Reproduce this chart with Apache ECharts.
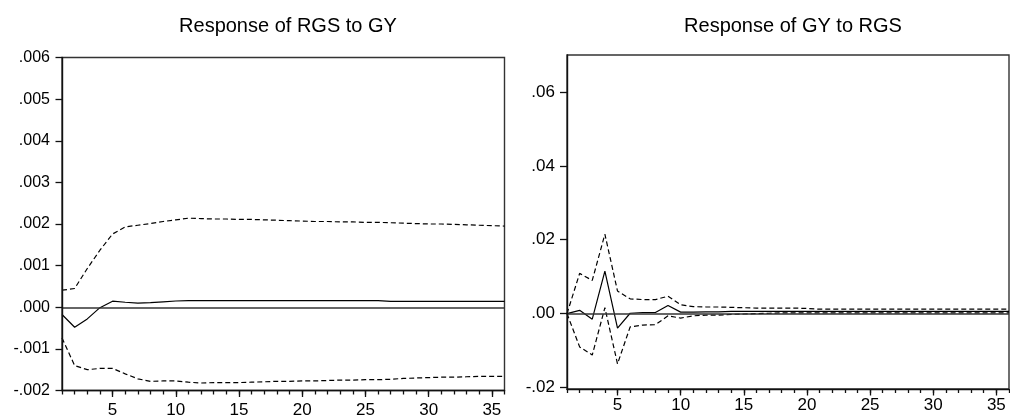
<!DOCTYPE html>
<html>
<head>
<meta charset="utf-8">
<script src="https://cdn.jsdelivr.net/npm/echarts@6/dist/echarts.min.js"></script>
<style>
html,body{margin:0;padding:0;background:#fff;}
#chart{width:1010px;height:419px;}
</style>
</head>
<body>
<div id="chart"></div>
<script>
// ---- data ----
const periods = [1,2,3,4,5,6,7,8,9,10,11,12,13,14,15,16,17,18,19,20,21,22,23,24,25,26,27,28,29,30,31,32,33,34,35,36];

const titleLeft = "Response of RGS to GY";
const titleRight = "Response of GY to RGS";

const rgsGyResp = [-0.000175,-0.00048,-0.00028,-0.00001,0.000145,0.00012,0.0001,0.00011,0.00013,0.00015,0.00016,0.00016,0.00016,0.00016,0.00016,0.00016,0.00016,0.00016,0.00016,0.00016,0.00016,0.00016,0.00016,0.00016,0.00016,0.00016,0.00014,0.00014,0.00014,0.00014,0.00014,0.00014,0.00014,0.00014,0.00014,0.00014];
const rgsGyUpper = [0.00041,0.00045,0.00093,0.00137,0.00176,0.00193,0.00197,0.00201,0.00206,0.0021,0.00214,0.00213,0.00212,0.00212,0.00211,0.00211,0.0021,0.00209,0.00208,0.00207,0.00206,0.00206,0.00205,0.00205,0.00204,0.00204,0.00203,0.00202,0.00201,0.002,0.002,0.00199,0.00198,0.00197,0.00196,0.00195];
const rgsGyLower = [-0.00074,-0.0014,-0.0015,-0.00147,-0.00147,-0.0016,-0.00172,-0.00178,-0.00177,-0.00177,-0.0018,-0.00182,-0.00181,-0.00181,-0.00181,-0.0018,-0.00179,-0.00178,-0.00178,-0.00177,-0.00177,-0.00176,-0.00175,-0.00175,-0.00174,-0.00174,-0.00173,-0.00171,-0.0017,-0.00169,-0.00168,-0.00168,-0.00167,-0.00166,-0.00166,-0.00166];

const gyRgsResp = [0,0.0009,-0.0015,0.0115,-0.0039,0.0001,0.0003,0.0003,0.0022,0.0004,0.0004,0.0005,0.0005,0.0006,0.0006,0.0006,0.0006,0.0006,0.0006,0.0006,0.0006,0.0006,0.0006,0.0006,0.0006,0.0006,0.0006,0.0006,0.0006,0.0006,0.0006,0.0006,0.0006,0.0006,0.0006,0.0006];
const gyRgsUpper = [0,0.0109,0.009,0.0215,0.0061,0.004,0.0038,0.0038,0.0047,0.0024,0.0019,0.0018,0.0018,0.0017,0.0016,0.0015,0.0015,0.0015,0.0015,0.0014,0.0012,0.0012,0.0012,0.0012,0.0012,0.0012,0.0012,0.0012,0.0012,0.0012,0.0012,0.0012,0.0012,0.0012,0.0012,0.0012];
const gyRgsLower = [0,-0.009,-0.0112,0.0016,-0.0136,-0.0036,-0.0031,-0.003,-0.0006,-0.0012,-0.0006,-0.0004,-0.0004,-0.0002,-0.0001,0,0.0001,0.0002,0.0002,0.0002,0.0002,0.0002,0.0002,0.0002,0.0002,0.0002,0.0002,0.0002,0.0002,0.0002,0.0002,0.0002,0.0002,0.0002,0.0002,0.0002];

const xMajorTicks = [5,10,15,20,25,30,35];
const leftYTicks = [-0.002,-0.001,0,0.001,0.002,0.003,0.004,0.005,0.006];
const rightYTicks = [-0.02,0,0.02,0.04,0.06];

// ---- helpers ----
const pairs = arr => periods.map((p,i) => [p, arr[i]]);
function fmt(dec){
  return function(v){
    let s = (Math.abs(v) < 1e-12 ? 0 : v).toFixed(dec);
    return s.replace(/^(-?)0\./, '$1.');
  };
}
const FONT = 'Liberation Sans, Arial, sans-serif';
const AX = '#111';

function lineSeries(xi, yi, arr, dashed, withZero){
  const s = {
    type:'line', xAxisIndex:xi, yAxisIndex:yi, data:pairs(arr),
    showSymbol:false, symbol:'none', silent:true, animation:false,
    lineStyle:{color:'#000', width:1.2, type: dashed ? [5,3] : 'solid'},
    z: 3
  };
  if (withZero){
    s.markLine = {
      silent:true, symbol:['none','none'], animation:false,
      label:{show:false},
      lineStyle:{color:'#333', width:1.5, type:'solid'},
      data:[{yAxis:0}]
    };
  }
  return s;
}

// main axis at bottom (major ticks + labels); helper axis placed at top
// then shifted down onto the bottom edge for the per-period minor ticks
function xAxes(gridIndex, margin, gridHeight){
  return [
    { type:'value', gridIndex, min:1, max:36, position:'bottom',
      axisLine:{show:true, onZero:false, lineStyle:{color:AX, width:1.4}},
      axisTick:{show:true, inside:false, length:6.5, customValues:xMajorTicks, lineStyle:{color:AX, width:1.3}},
      axisLabel:{show:true, customValues:xMajorTicks, margin, color:'#000', fontSize:17, fontFamily:FONT},
      splitLine:{show:false}, z:5 },
    { type:'value', gridIndex, min:1, max:36, position:'top', offset:-gridHeight,
      axisLine:{show:false, onZero:false},
      axisTick:{show:true, inside:true, length:4, customValues:periods, lineStyle:{color:AX, width:1.3}},
      axisLabel:{show:false},
      splitLine:{show:false}, z:5 }
  ];
}

const option = {
  backgroundColor:'#fff',
  animation:false,
  title:[
    {text:titleLeft, left:283, top:11, textAlign:'center',
     textStyle:{fontFamily:FONT, fontSize:20, fontWeight:'normal', color:'#000'}},
    {text:titleRight, left:788, top:11, textAlign:'center',
     textStyle:{fontFamily:FONT, fontSize:20, fontWeight:'normal', color:'#000'}}
  ],
  grid:[
    {left:62, right:505.5, top:57.5, bottom:28.5, show:true, borderColor:'#333', borderWidth:1.4},
    {left:567, right:1, top:55, bottom:30, show:true, borderColor:'#333', borderWidth:1.4}
  ],
  xAxis:[].concat(xAxes(0, 11, 419-57.5-28.5), xAxes(1, 8, 419-55-30)),
  yAxis:[
    { type:'value', gridIndex:0, min:-0.002, max:0.006, interval:0.001,
      axisLine:{show:true, onZero:false, lineStyle:{color:AX, width:1.4}},
      axisTick:{show:true, length:6.5, customValues:leftYTicks, lineStyle:{color:AX, width:1.3}},
      axisLabel:{customValues:leftYTicks, formatter:fmt(3), margin:12, color:'#000', fontSize:16, fontFamily:FONT},
      splitLine:{show:false}, z:5 },
    { type:'value', gridIndex:1, min:-0.0204, max:0.07,
      axisLine:{show:true, onZero:false, lineStyle:{color:AX, width:1.4}},
      axisTick:{show:true, length:7, customValues:rightYTicks, lineStyle:{color:AX, width:1.3}},
      axisLabel:{customValues:rightYTicks, formatter:fmt(2), margin:12, color:'#000', fontSize:17, fontFamily:FONT},
      splitLine:{show:false}, z:5 }
  ],
  series:[
    lineSeries(0,0,rgsGyResp,false,true),
    lineSeries(0,0,rgsGyUpper,true,false),
    lineSeries(0,0,rgsGyLower,true,false),
    lineSeries(2,1,gyRgsResp,false,true),
    lineSeries(2,1,gyRgsUpper,true,false),
    lineSeries(2,1,gyRgsLower,true,false)
  ]
};

const chart = echarts.init(document.getElementById('chart'), null, {renderer:'canvas'});
chart.setOption(option);
</script>
</body>
</html>
